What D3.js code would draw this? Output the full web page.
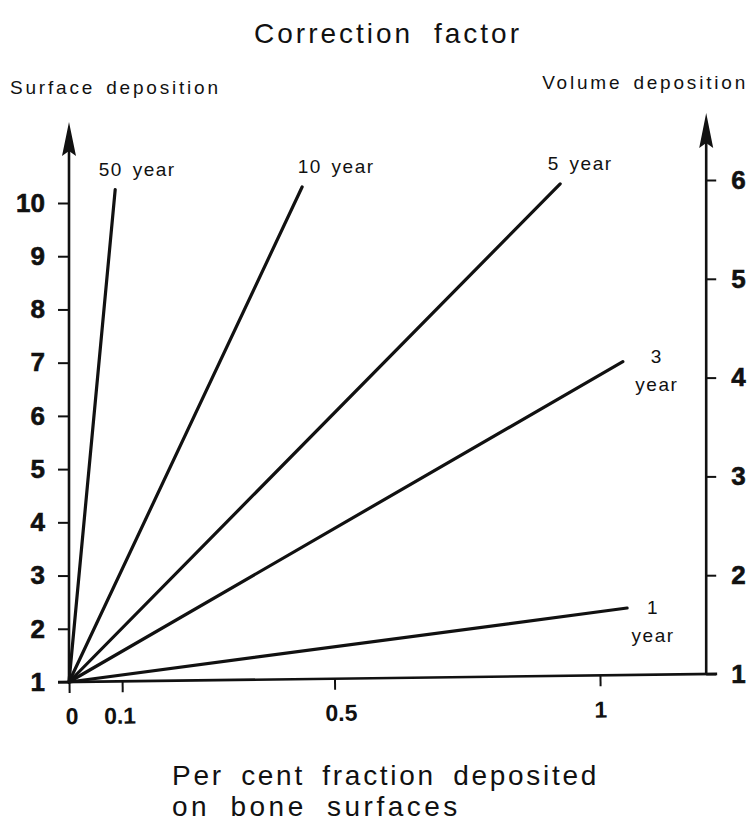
<!DOCTYPE html>
<html>
<head>
<meta charset="utf-8">
<script src="https://cdn.jsdelivr.net/npm/d3@7"></script>
<style>
  body { margin: 0; background: #fff; }
  svg text { font-family: "Liberation Sans", Arial, sans-serif; fill: #111; }
</style>
</head>
<body>
<svg id="chart"></svg>
<script>
// data: every line starts at (0, 1)
var seriesNames = ["50 year", "10 year", "5 year", "3 year", "1 year"];
var lineEndX = [0.087, 0.439, 0.925, 1.043, 1.051];
var lineEndY = [10.25, 10.30, 10.36, 7.02, 2.39];
var originX = 0, originY = 1;

var xTicks = [0, 0.1, 0.5, 1];
var xTickLabels = ["0", "0.1", "0.5", "1"];
var leftTicks = [1, 2, 3, 4, 5, 6, 7, 8, 9, 10];
var rightTicks = [1, 2, 3, 4, 5, 6];

var width = 753, height = 825;

var svg = d3.select("#chart")
    .attr("width", width)
    .attr("height", height);

//scales
var xScale = d3.scaleLinear().domain([0, 1]).range([69, 600]);
var yLeft = d3.scaleLinear().domain([1, 10]).range([682, 203]);
var yRight = d3.scaleLinear().domain([1, 6]).range([674, 180]);
var xMax = 1.2;

// bottom axis is a bit tilted in the scan
var tilt = Math.atan2(yRight(1) - yLeft(1), xScale(xMax) - xScale(0)) * 180 / Math.PI;

var xAxis = d3.axisBottom(xScale)
    .tickValues(xTicks)
    .tickFormat(function(d, i){ return xTickLabels[i]; })
    .tickSize(11)
    .tickPadding(15)
    .tickSizeOuter(0);

var gx = svg.append("g")
    .attr("transform", "translate(0," + yLeft(1) + ") rotate(" + tilt + "," + xScale(0) + ",0)")
    .call(xAxis);
gx.select(".domain").remove();
gx.append("line")
    .attr("x1", xScale(0) - 11)
    .attr("x2", xScale(xMax) + 11)
    .attr("stroke", "#111")
    .attr("stroke-width", 2.6);
gx.selectAll(".tick line").attr("stroke", "#111").attr("stroke-width", 2);
gx.selectAll(".tick text")
    .attr("font-size", 23)
    .attr("font-weight", "bold")
    .attr("fill", "#111")
    .attr("dx", function(d){ return d == 0.5 ? 6 : (d == 0.1 ? -3 : (d == 0 ? 2 : 0)); });

// left axis
var leftAxis = d3.axisLeft(yLeft)
    .tickValues(leftTicks)
    .tickSize(11)
    .tickPadding(13)
    .tickSizeOuter(0);
var gl = svg.append("g")
    .attr("transform", "translate(" + xScale(0) + ",0)")
    .call(leftAxis);
gl.select(".domain").remove();
gl.append("line")
    .attr("y1", yLeft(1))
    .attr("y2", 140)
    .attr("stroke", "#111")
    .attr("stroke-width", 2.6);
gl.append("path")
    .attr("d", "M0,122 L7,156 L0,151 L-7,156 Z")
    .attr("fill", "#111");
gl.selectAll(".tick line").attr("stroke", "#111").attr("stroke-width", 2);
gl.selectAll(".tick text")
    .attr("font-size", 26)
    .attr("font-weight", "bold")
    .attr("fill", "#111")
    .attr("stroke", "#111")
    .attr("stroke-width", 0.6);

// right axis
var rightAxis = d3.axisRight(yRight)
    .tickValues(rightTicks)
    .tickFormat(d3.format("d"))
    .tickSize(10)
    .tickPadding(15)
    .tickSizeOuter(0);
var gr = svg.append("g")
    .attr("transform", "translate(" + xScale(xMax) + ",0)")
    .call(rightAxis);
gr.select(".domain").remove();
gr.append("line")
    .attr("y1", yRight(1))
    .attr("y2", 130)
    .attr("stroke", "#111")
    .attr("stroke-width", 2.6);
gr.append("path")
    .attr("d", "M0,113 L7,148 L0,143 L-7,148 Z")
    .attr("fill", "#111");
gr.selectAll(".tick line").attr("stroke", "#111").attr("stroke-width", 2);
gr.selectAll(".tick text")
    .attr("font-size", 26)
    .attr("font-weight", "bold")
    .attr("fill", "#111")
    .attr("stroke", "#111")
    .attr("stroke-width", 0.6);

//draw the lines
svg.selectAll(".series")
    .data(seriesNames)
    .enter()
    .append("line")
    .attr("class", "series")
    .attr("x1", xScale(originX))
    .attr("y1", yLeft(originY))
    .attr("x2", function(d, i){ return xScale(lineEndX[i]); })
    .attr("y2", function(d, i){ return yLeft(lineEndY[i]); })
    .attr("stroke", "#111")
    .attr("stroke-width", 3.2)
    .attr("stroke-linecap", "round");

// line labels, placed relative to the line ends
var labelPlace = {
    "50 year": {dx: 22, dy: -14, two: false},
    "10 year": {dx: 34, dy: -14, two: false},
    "5 year": {dx: 20, dy: -14, two: false},
    "3 year": {dx: 34, dy: 1, two: true},
    "1 year": {dx: 26, dy: 6, two: true}
};
seriesNames.forEach(function(name, i){
    var p = labelPlace[name];
    var x = xScale(lineEndX[i]) + p.dx;
    var y = yLeft(lineEndY[i]) + p.dy;
    var t = svg.append("text")
        .attr("x", x)
        .attr("y", y)
        .attr("text-anchor", "middle")
        .attr("font-size", 19)
        .attr("letter-spacing", 1.5)
        .attr("word-spacing", 3);
    if (p.two) {
        var parts = name.split(" ");
        t.text(parts[0]);
        svg.append("text")
            .attr("x", x)
            .attr("y", y + 28)
            .attr("text-anchor", "middle")
            .attr("font-size", 19)
            .attr("letter-spacing", 1.5)
            .text(parts[1]);
    } else {
        t.text(name);
    }
});

// titles
svg.append("text")
    .attr("x", 388)
    .attr("y", 43)
    .attr("text-anchor", "middle")
    .attr("font-size", 28)
    .attr("letter-spacing", 3)
    .attr("word-spacing", 10)
    .text("Correction factor");

svg.append("text")
    .attr("x", 10)
    .attr("y", 94)
    .attr("font-size", 19)
    .attr("letter-spacing", 2.8)
    .attr("word-spacing", 3)
    .text("Surface deposition");

svg.append("text")
    .attr("x", 748)
    .attr("y", 89)
    .attr("text-anchor", "end")
    .attr("font-size", 19)
    .attr("letter-spacing", 2.8)
    .attr("word-spacing", 3)
    .text("Volume deposition");

svg.append("text")
    .attr("x", 172)
    .attr("y", 785)
    .attr("font-size", 28)
    .attr("letter-spacing", 2.7)
    .attr("word-spacing", 7)
    .text("Per cent fraction deposited");

svg.append("text")
    .attr("x", 172)
    .attr("y", 816)
    .attr("font-size", 28)
    .attr("letter-spacing", 3.5)
    .attr("word-spacing", 9)
    .text("on bone surfaces");
</script>
</body>
</html>
